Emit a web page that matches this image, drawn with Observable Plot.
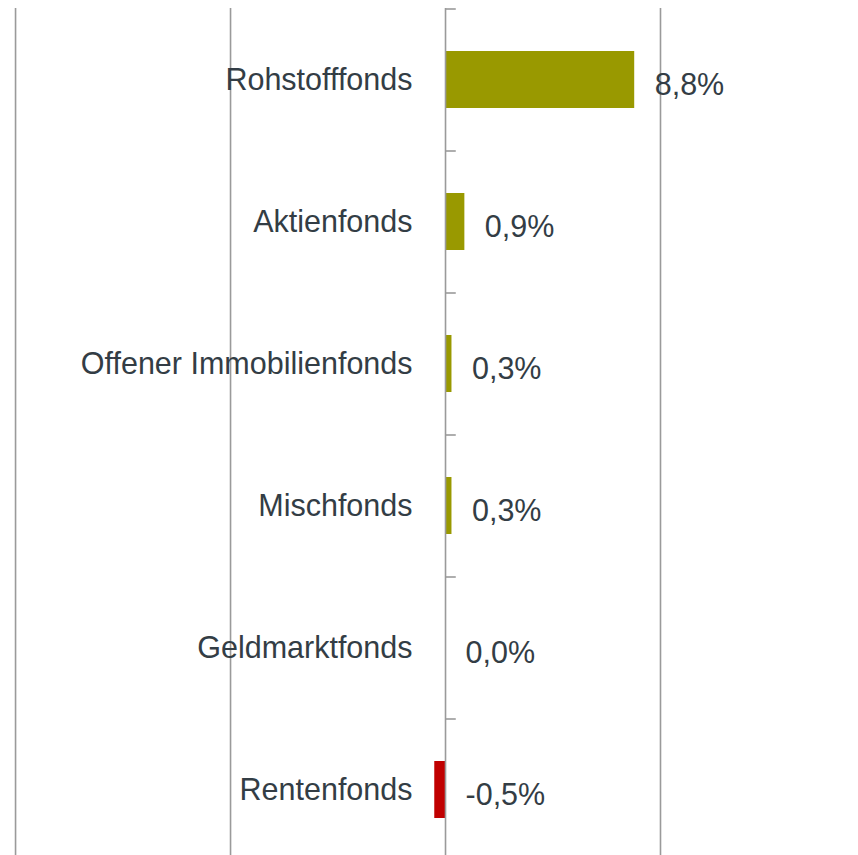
<!DOCTYPE html>
<html>
<head>
<meta charset="utf-8">
<script src="https://cdn.jsdelivr.net/npm/d3@7"></script>
<script src="https://cdn.jsdelivr.net/npm/@observablehq/plot@0.6"></script>
<style>
  html, body { margin: 0; padding: 0; background: #ffffff; }
  #chart svg { display: block; }
</style>
</head>
<body>
<div id="chart"></div>
<script>
const categories = ["Rohstofffonds", "Aktienfonds", "Offener Immobilienfonds", "Mischfonds", "Geldmarktfonds", "Rentenfonds"];
const values = [8.8, 0.9, 0.3, 0.3, 0.0, -0.5];
const gridTicks = [-20, -10, 10];

const data = categories.map((c, i) => ({category: c, value: values[i]}));
const fmt = v => v.toFixed(1).replace(".", ",") + "%";
const textColor = "#333d45";
const lineColor = "#9a9a9a";

const chart = Plot.plot({
  width: 858,
  height: 855,
  marginTop: 8,
  marginBottom: 0,
  marginLeft: 0,
  marginRight: 0,
  style: {fontFamily: "Liberation Sans, Arial, sans-serif", fontSize: "30.5px", background: "#ffffff"},
  x: {domain: [-20.7, 19.21], axis: null},
  y: {domain: categories, range: [8, 860], paddingInner: 0.6, paddingOuter: 0.3, axis: null},
  marks: [
    Plot.ruleX(gridTicks, {stroke: lineColor, strokeWidth: 1.6}),
    Plot.barX(data, {
      y: "category",
      x: "value",
      fill: d => d.value < 0 ? "#c00000" : "#999900"
    }),
    Plot.ruleX([0], {stroke: lineColor, strokeWidth: 1.6}),
    Plot.ruleY(categories, {y: d => d, x1: 0, x2: 0.5, dy: -71, stroke: lineColor, strokeWidth: 1.6}),
    Plot.text(data, {
      y: "category",
      x: () => 0,
      text: "category",
      dx: -33,
      textAnchor: "end",
      fill: textColor
    }),
    Plot.text(data, {
      y: "category",
      x: d => Math.max(d.value, 0),
      text: d => fmt(d.value),
      dx: 20,
      dy: 5,
      textAnchor: "start",
      fill: textColor
    })
  ]
});
document.getElementById("chart").appendChild(chart);
</script>
</body>
</html>
